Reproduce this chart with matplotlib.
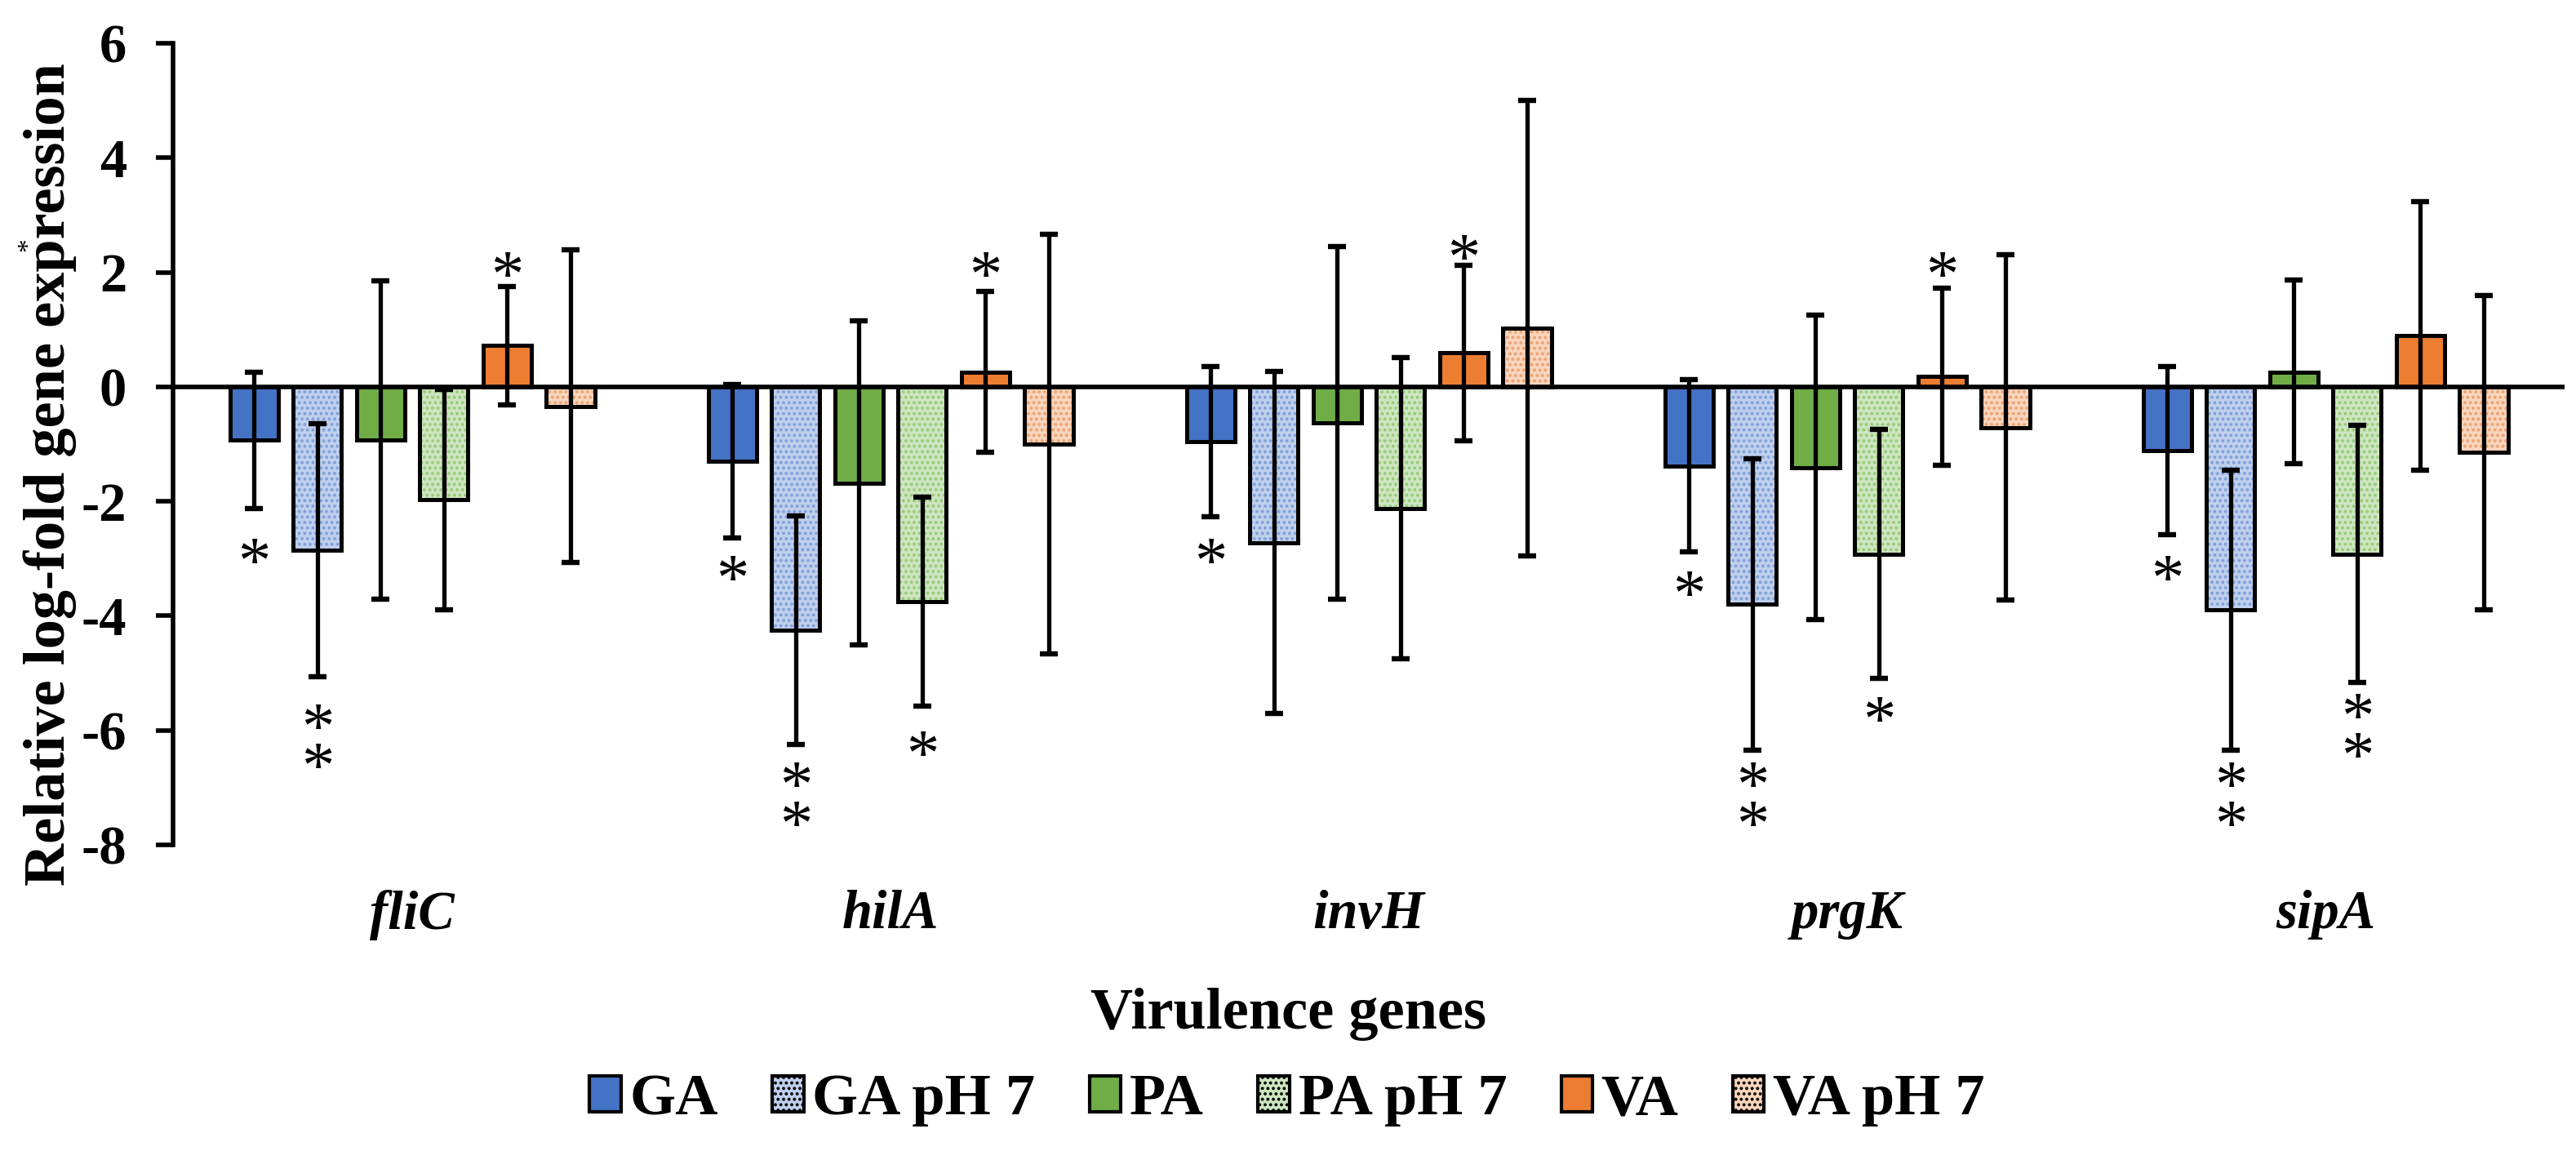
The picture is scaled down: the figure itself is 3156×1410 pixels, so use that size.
import matplotlib
matplotlib.use("Agg")
import matplotlib.pyplot as plt
import numpy as np
from matplotlib.patches import Patch

plt.rcParams['font.family'] = ['Liberation Serif', 'DejaVu Serif']
plt.rcParams['font.weight'] = 'bold'
plt.rcParams['hatch.linewidth'] = 0.9

genes = ['fliC', 'hilA', 'invH', 'prgK', 'sipA']
series = ['GA', 'GA pH 7', 'PA', 'PA pH 7', 'VA', 'VA pH 7']

GA      = [-0.93, -1.30, -0.96, -1.38, -1.11]
GA_pH7  = [-2.85, -4.25, -2.72, -3.80, -3.90]
PA      = [-0.93, -1.68, -0.63, -1.41, 0.26]
PA_pH7  = [-1.97, -3.75, -2.12, -2.92, -2.92]
VA      = [0.72, 0.26, 0.59, 0.18, 0.89]
VA_pH7  = [-0.34, -1.00, 1.02, -0.71, -1.15]

GA_err     = [1.19, 1.34, 1.31, 1.50, 1.47]
GA_pH7_err = [2.21, 2.00, 2.99, 2.55, 2.44]
PA_err     = [2.78, 2.83, 3.08, 2.66, 1.60]
PA_pH7_err = [1.93, 1.82, 2.63, 2.17, 2.25]
VA_err     = [1.03, 1.40, 1.53, 1.55, 2.35]
VA_pH7_err = [2.73, 3.66, 3.98, 3.02, 2.75]

values = [GA, GA_pH7, PA, PA_pH7, VA, VA_pH7]
errors = [GA_err, GA_pH7_err, PA_err, PA_pH7_err, VA_err, VA_pH7_err]

# significance marks: gene index, series index, label, y of the lowest asterisk
star_gene   = [0, 0, 0, 1, 1, 1, 1, 2, 2, 3, 3, 3, 3, 4, 4, 4]
star_series = [0, 1, 4, 0, 1, 3, 4, 0, 4, 0, 1, 3, 4, 0, 1, 3]
star_text   = ['*', '**', '*', '*', '**', '*', '*', '*', '*', '*', '**', '*', '*', '*', '**', '**']
star_y      = [-2.87, -6.45, 2.13,
               -3.17, -7.46, -6.23, 2.13,
               -2.87, 2.44,
               -3.44, -7.46, -5.64, 2.13,
               -3.17, -7.46, -6.26]

yticks = [-8, -6, -4, -2, 0, 2, 4, 6]

faces   = ['#4472C4', '#BFD0EE', '#70AD47', '#CDE6C0', '#ED7D31', '#F9D5BC']
hatches = [None, '.....', None, '.....', None, '.....']
hcols   = [None, '#7F9FD6', None, '#98C97A', None, '#E9A273']

fig = plt.figure(figsize=(15.78, 7.05), dpi=200)
ax = fig.add_axes([0.0672, 0.2660, 0.9284, 0.6964])

x = np.arange(len(genes))
pitch = 0.1324
width = 0.101
edge_lw = 1.8

for j, (vals, errs) in enumerate(zip(values, errors)):
    pos = x + (j - 2.5) * pitch
    if hatches[j]:
        ax.bar(pos, vals, width, color=faces[j], edgecolor=hcols[j],
               hatch=hatches[j], linewidth=0, zorder=2)
        ax.bar(pos, vals, width, facecolor='none', edgecolor='black',
               linewidth=edge_lw, zorder=3)
    else:
        ax.bar(pos, vals, width, color=faces[j], edgecolor='black',
               linewidth=edge_lw, zorder=3)
    ax.errorbar(pos, vals, yerr=errs, fmt='none', ecolor='black',
                elinewidth=1.9, capsize=3.8, capthick=2.3, zorder=5)

star_fs = 29
for g, s, txt, yv in zip(star_gene, star_series, star_text, star_y):
    xp = x[g] + (s - 2.5) * pitch
    ax.annotate('\n'.join(txt), xy=(xp, yv), xytext=(0, -0.47 * star_fs),
                textcoords='offset points', ha='center', va='baseline',
                fontsize=star_fs, fontweight='normal', linespacing=0.55,
                multialignment='center', zorder=6)

ax.axhline(0, color='black', linewidth=2.0, zorder=4)

ax.set_xlim(-0.5, 4.5)
ax.set_ylim(-8, 6)
ax.set_yticks(yticks)
ax.set_yticklabels([str(t) for t in yticks], fontsize=24, fontweight='bold')
ax.tick_params(axis='y', direction='out', length=7.5, width=2.0, pad=13)
ax.set_xticks(x)
ax.set_xticklabels(genes, fontsize=24, fontweight='bold', fontstyle='italic')
ax.tick_params(axis='x', length=0, pad=20)

for side in ['top', 'right', 'bottom']:
    ax.spines[side].set_visible(False)
ax.spines['left'].set_linewidth(2.0)

ax.set_ylabel('Relative log-fold gene expression', fontsize=26, fontweight='bold')
ax.yaxis.set_label_coords(-0.0403, 0.462)

fig.text(35 / 3156, 1 - 300 / 1410, '*', fontsize=12, rotation=90,
         ha='center', va='center', fontweight='normal')

fig.text(0.5, 0.1064, 'Virulence genes', fontsize=26, fontweight='bold',
         ha='center', va='baseline')

handles = []
for j in range(len(series)):
    if hatches[j]:
        handles.append(Patch(facecolor=faces[j], edgecolor='black', hatch=hatches[j],
                             linewidth=1.5, label=series[j]))
    else:
        handles.append(Patch(facecolor=faces[j], edgecolor='black',
                             linewidth=1.5, label=series[j]))

leg = fig.legend(handles=handles, loc='center', bbox_to_anchor=(0.4997, 0.044),
                 ncol=6, frameon=False, prop={'size': 26, 'weight': 'bold'},
                 handlelength=0.53, handleheight=0.55, handletextpad=0.15,
                 columnspacing=0.92, borderpad=0, borderaxespad=0)

fig.savefig('out.png', dpi=200)
